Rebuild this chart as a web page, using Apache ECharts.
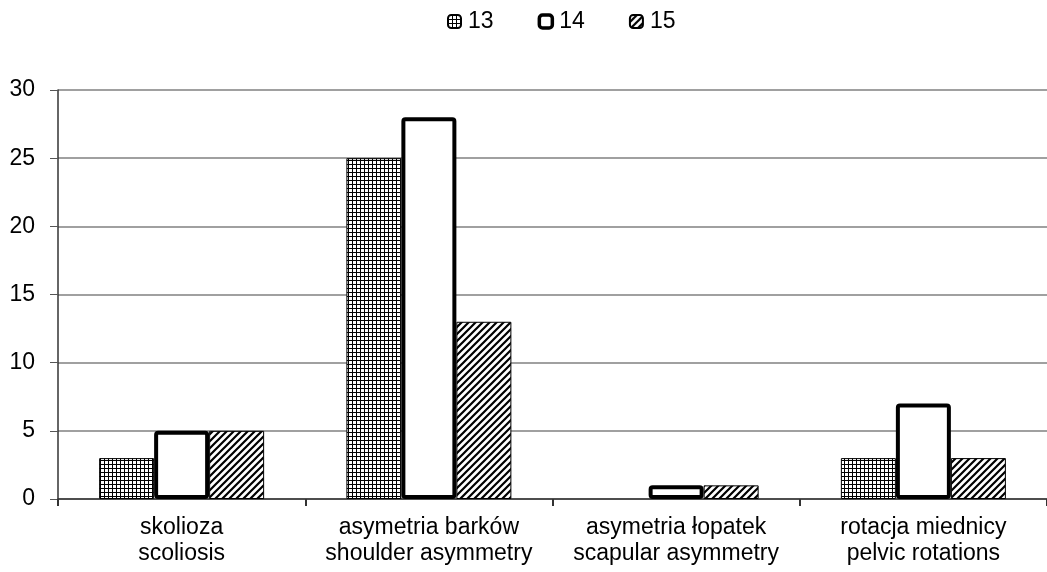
<!DOCTYPE html>
<html>
<head>
<meta charset="utf-8">
<script src="https://cdn.jsdelivr.net/npm/echarts@6/dist/echarts.min.js"></script>
<style>
  html, body { margin: 0; padding: 0; background: #fff; }
  #chart { width: 1047px; height: 572px; }
</style>
</head>
<body>
<div id="chart"></div>
<script>
var categories = [
  "skolioza\nscoliosis",
  "asymetria barków\nshoulder asymmetry",
  "asymetria łopatek\nscapular asymmetry",
  "rotacja miednicy\npelvic rotations"
];
var seriesNames = ["13", "14", "15"];
var values13 = [3, 25, 0, 3];
var values14 = [5, 28, 1, 7];
var values15 = [5, 13, 1, 3];
var yTicks = [0, 5, 10, 15, 20, 25, 30];

// small grid pattern for "13"
function gridPattern() {
  var c = document.createElement("canvas");
  c.width = 4; c.height = 4;
  var ctx = c.getContext("2d");
  ctx.fillStyle = "#fff";
  ctx.fillRect(0, 0, 4, 4);
  ctx.fillStyle = "#000";
  ctx.fillRect(0, 0, 4, 1);
  ctx.fillRect(0, 0, 1, 4);
  return c;
}

// diagonal hatch for "15"
function hatchPattern() {
  var s = 7;
  var c = document.createElement("canvas");
  c.width = s; c.height = s;
  var ctx = c.getContext("2d");
  ctx.fillStyle = "#fff";
  ctx.fillRect(0, 0, s, s);
  ctx.strokeStyle = "#000";
  ctx.lineWidth = 2.2;
  ctx.beginPath();
  ctx.moveTo(-2, 2); ctx.lineTo(2, -2);
  ctx.moveTo(0, s); ctx.lineTo(s, 0);
  ctx.moveTo(s - 2, s + 2); ctx.lineTo(s + 2, s - 2);
  ctx.stroke();
  return c;
}

// zero bars are not drawn in the original
function noZero(arr) {
  return arr.map(function (v) { return v === 0 ? "-" : v; });
}

var font = "Liberation Sans, Arial, sans-serif";
var myChart = echarts.init(document.getElementById("chart"));

var options = {
  animation: false,
  legend: {
    top: 5,
    left: 442,
    itemWidth: 13,
    itemHeight: 13,
    itemGap: 44,
    textStyle: { fontFamily: font, fontSize: 23, color: "#000", padding: [0, 0, 0, 2] },
    data: [
      { name: "13", itemStyle: { borderColor: "#000", borderWidth: 2 } },
      { name: "14", itemStyle: { borderColor: "#000", borderWidth: 3.5 } },
      { name: "15", itemStyle: { borderColor: "#000", borderWidth: 2 } }
    ]
  },
  grid: { left: 58, top: 90, width: 992, height: 409 },
  xAxis: {
    type: "category",
    data: categories,
    axisLine: { lineStyle: { color: "#333", width: 1.5 } },
    axisTick: { show: true, interval: 0, length: 7, lineStyle: { color: "#333", width: 2 } },
    axisLabel: {
      interval: 0,
      fontFamily: font, fontSize: 23, color: "#000",
      lineHeight: 26, margin: 16
    }
  },
  yAxis: {
    type: "value",
    min: 0, max: 30, interval: 5,
    axisLine: { show: true, lineStyle: { color: "#333", width: 1.5 } },
    axisTick: { show: true, length: 8, lineStyle: { color: "#555" } },
    splitLine: { lineStyle: { color: "#808080", width: 1.5 } },
    axisLabel: {
      fontFamily: font, fontSize: 23, color: "#000", margin: 23,
      formatter: function (v) { return yTicks.indexOf(v) >= 0 ? String(v) : ""; }
    }
  },
  series: [
    {
      name: seriesNames[0], type: "bar", data: noZero(values13),
      barWidth: 55, barGap: "0%",
      itemStyle: {
        color: { image: gridPattern(), repeat: "repeat" },
        borderColor: "#000", borderWidth: 1
      }
    },
    {
      name: seriesNames[1], type: "bar", data: noZero(values14),
      barWidth: 55, barGap: "0%",
      itemStyle: { color: "#fff", borderColor: "#000", borderWidth: 4, borderRadius: 2 }
    },
    {
      name: seriesNames[2], type: "bar", data: noZero(values15),
      barWidth: 55, barGap: "0%",
      itemStyle: {
        color: { image: hatchPattern(), repeat: "repeat" },
        borderColor: "#000", borderWidth: 1
      }
    }
  ]
};

myChart.setOption(options);
</script>
</body>
</html>
